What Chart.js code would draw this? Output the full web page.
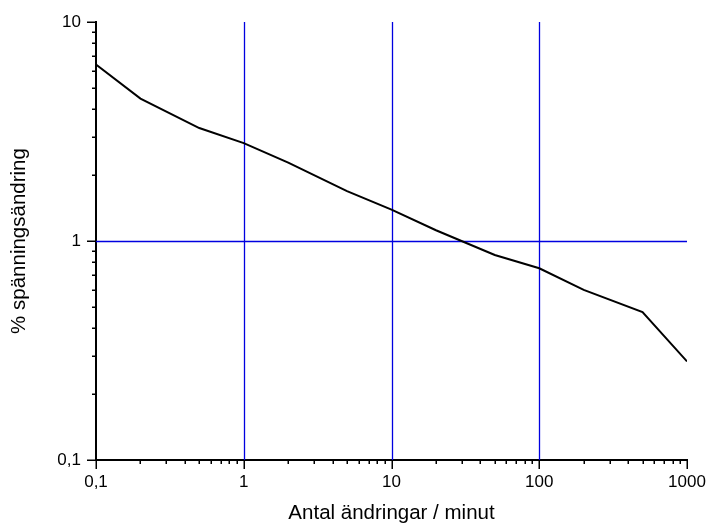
<!DOCTYPE html>
<html>
<head>
<meta charset="utf-8">
<script src="https://cdn.jsdelivr.net/npm/chart.js@4/dist/chart.umd.min.js"></script>
<style>
  html, body { margin: 0; padding: 0; background: #fff; }
  #wrap { width: 707px; height: 524px; }
</style>
</head>
<body>
<div id="wrap"><canvas id="c" width="707" height="524"></canvas></div>
<script>
// Data
const changesPerMinute = [0.1, 0.2, 0.5, 1, 2, 5, 10, 20, 50, 100, 200, 500, 1000];
const voltageChangePct = [6.40, 4.47, 3.28, 2.80, 2.28, 1.69, 1.39, 1.12, 0.863, 0.751, 0.598, 0.474, 0.282];

const xTickValues = [0.1, 1, 10, 100, 1000];
const xTickLabels = ['0,1', '1', '10', '100', '1000'];
const yTickValues = [0.1, 1, 10];
const yTickLabels = ['0,1', '1', '10'];
const xGridValues = [1, 10, 100];
const yGridValues = [1];

const xTitle = 'Antal ändringar / minut';
const yTitle = '% spänningsändring';

function logTicks(min, max) {
  const out = [];
  for (let e = Math.round(Math.log10(min)); e < Math.round(Math.log10(max)); e++) {
    for (let m = 1; m <= 9; m++) out.push(+(m * Math.pow(10, e)).toPrecision(6));
  }
  out.push(max);
  return out;
}
function isMajor(v) { return Math.abs(Math.log10(v) - Math.round(Math.log10(v))) < 1e-9; }

const FONT = '"Liberation Sans", Arial, sans-serif';
const GRID_BLUE = '#0000e0';

const blueGrid = {
  id: 'blueGrid',
  beforeDatasetsDraw(chart) {
    const ctx = chart.ctx, xs = chart.scales.x, ys = chart.scales.y, a = chart.chartArea;
    ctx.save();
    ctx.strokeStyle = GRID_BLUE;
    ctx.lineWidth = 1.3;
    xGridValues.forEach(v => {
      const px = Math.round(xs.getPixelForValue(v)) + 0.5;
      ctx.beginPath(); ctx.moveTo(px, a.top); ctx.lineTo(px, a.bottom); ctx.stroke();
    });
    yGridValues.forEach(v => {
      const py = Math.round(ys.getPixelForValue(v)) + 0.5;
      ctx.beginPath(); ctx.moveTo(a.left, py); ctx.lineTo(a.right, py); ctx.stroke();
    });
    ctx.restore();
  }
};

const tickMarks = {
  id: 'tickMarks',
  afterDraw(chart) {
    const ctx = chart.ctx, xs = chart.scales.x, ys = chart.scales.y;
    ctx.save();
    ctx.strokeStyle = '#000';
    ctx.lineWidth = 1.5;
    xs.ticks.forEach(t => {
      const px = Math.round(xs.getPixelForValue(t.value)) + 0.25;
      const len = isMajor(t.value) ? 9 : 4;
      ctx.beginPath(); ctx.moveTo(px, xs.top); ctx.lineTo(px, xs.top + len); ctx.stroke();
    });
    ys.ticks.forEach(t => {
      const py = Math.round(ys.getPixelForValue(t.value)) + 0.25;
      const len = isMajor(t.value) ? 9 : 4;
      ctx.beginPath(); ctx.moveTo(ys.right, py); ctx.lineTo(ys.right - len, py); ctx.stroke();
    });
    ctx.restore();
  }
};

new Chart(document.getElementById('c'), {
  type: 'line',
  data: {
    datasets: [{
      data: changesPerMinute.map((x, i) => ({ x, y: voltageChangePct[i] })),
      borderColor: '#000',
      borderWidth: 2,
      pointRadius: 0,
      tension: 0,
      fill: false
    }]
  },
  options: {
    responsive: false,
    animation: false,
    layout: { padding: { top: 22, right: 20, left: 0, bottom: 0 } },
    plugins: { legend: { display: false }, tooltip: { enabled: false } },
    scales: {
      x: {
        type: 'logarithmic',
        min: 0.1, max: 1000,
        afterBuildTicks: s => { s.ticks = logTicks(0.1, 1000).map(v => ({ value: v })); },
        afterFit: s => { s.height = 64; s.paddingLeft = 0; s.paddingRight = 0; },
        ticks: {
          autoSkip: false, maxRotation: 0, padding: 12,
          color: '#000',
          font: { family: FONT, size: 17 },
          callback: v => { const i = xTickValues.findIndex(t => Math.abs(t - v) < 1e-9); return i >= 0 ? xTickLabels[i] : ''; }
        },
        grid: { display: true, drawOnChartArea: false, drawTicks: false, tickLength: 0, color: 'rgba(0,0,0,0)' },
        border: { display: true, color: '#000', width: 2 },
        title: { display: true, text: xTitle, color: '#000', font: { family: FONT, size: 20.5, lineHeight: 1 }, padding: { top: 0, bottom: 0 } }
      },
      y: {
        type: 'logarithmic',
        min: 0.1, max: 10,
        afterBuildTicks: s => { s.ticks = logTicks(0.1, 10).map(v => ({ value: v })); },
        afterFit: s => { s.width = 96; s.paddingTop = 0; s.paddingBottom = 0; },
        ticks: {
          autoSkip: false, padding: 15,
          color: '#000',
          font: { family: FONT, size: 17 },
          callback: v => { const i = yTickValues.findIndex(t => Math.abs(t - v) < 1e-9); return i >= 0 ? yTickLabels[i] : ''; }
        },
        grid: { display: true, drawOnChartArea: false, drawTicks: false, tickLength: 0, color: 'rgba(0,0,0,0)' },
        border: { display: true, color: '#000', width: 2 },
        title: { display: true, text: yTitle, color: '#000', font: { family: FONT, size: 20.5, lineHeight: 1 }, padding: { top: 9, bottom: 0 } }
      }
    }
  },
  plugins: [blueGrid, tickMarks]
});
</script>
</body>
</html>
